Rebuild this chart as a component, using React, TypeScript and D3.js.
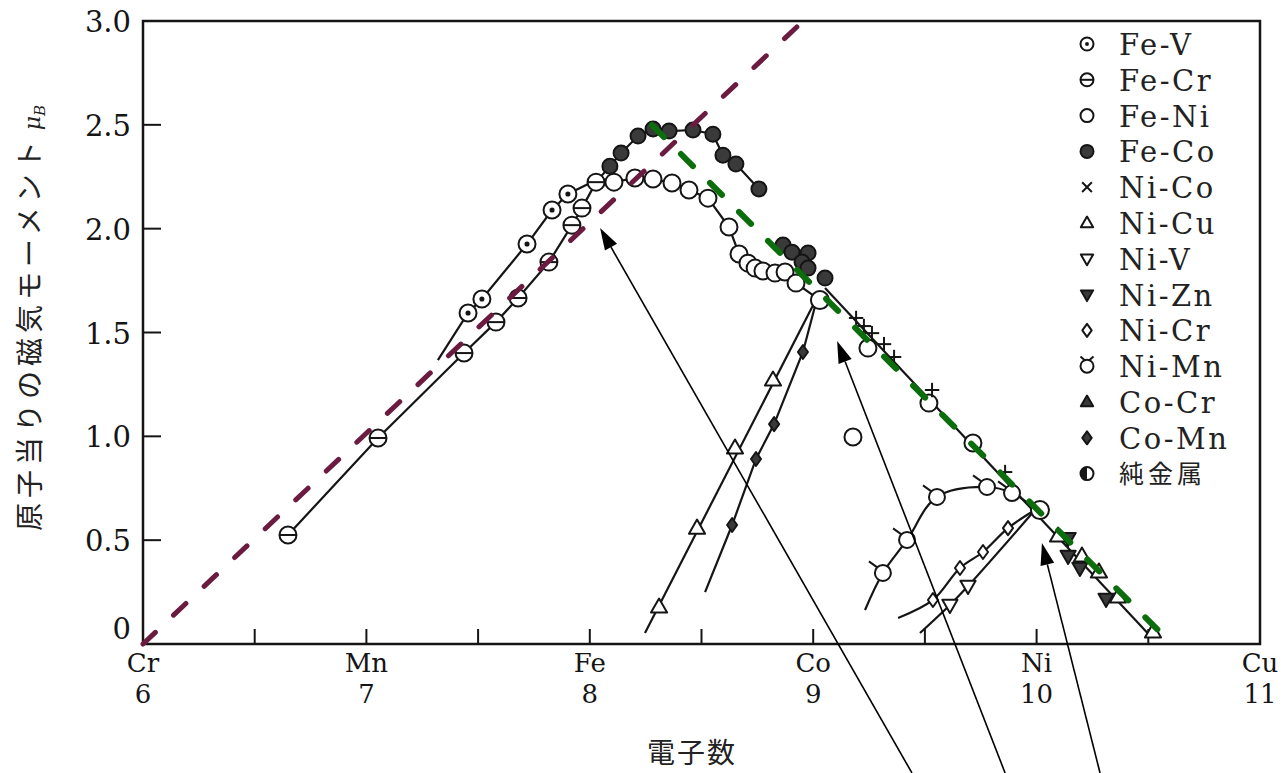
import React from 'react';
import * as d3 from 'd3';

type P = [number, number];

// ---------- axis data ----------
const elementLabels = ['Cr', 'Mn', 'Fe', 'Co', 'Ni', 'Cu'];
const electronNumbers = [6, 7, 8, 9, 10, 11];
const xTickValues = [6.5, 7, 7.5, 8, 8.5, 9, 9.5, 10, 10.5];
const yTickValues = [0.5, 1.0, 1.5, 2.0, 2.5];
const yLabelValues = [0.5, 1.0, 1.5, 2.0, 2.5, 3.0];

// ---------- series (electron number, moment μB) ----------
const feV: P[] = [[7.455, 1.594], [7.517, 1.661], [7.719, 1.926], [7.831, 2.09], [7.902, 2.167]];
const feVCurve: P[] = [[7.32, 1.367], [7.455, 1.594], [7.517, 1.661], [7.719, 1.926], [7.831, 2.09], [7.902, 2.167], [8.02, 2.23]];

const feCr: P[] = [[6.649, 0.525], [7.052, 0.992], [7.437, 1.401], [7.58, 1.55], [7.679, 1.666], [7.817, 1.839], [7.92, 2.017], [7.965, 2.099], [8.028, 2.224]];

const feNi: P[] = [[8.108, 2.224], [8.202, 2.244], [8.283, 2.239], [8.368, 2.22], [8.444, 2.186], [8.529, 2.147], [8.623, 2.008], [8.668, 1.878], [8.708, 1.834], [8.74, 1.81], [8.775, 1.796], [8.829, 1.786], [8.874, 1.791], [8.923, 1.738], [9.178, 0.997], [9.245, 1.425], [9.518, 1.16], [9.715, 0.968]];
const feNiCurve: P[] = [[8.028, 2.224], [8.108, 2.224], [8.202, 2.244], [8.283, 2.239], [8.368, 2.22], [8.444, 2.186], [8.529, 2.147], [8.623, 2.008], [8.668, 1.878], [8.708, 1.834], [8.74, 1.81], [8.775, 1.796], [8.829, 1.786], [8.874, 1.791], [8.923, 1.738], [9.03, 1.656]];

const feCo: P[] = [[8.09, 2.301], [8.14, 2.364], [8.216, 2.446], [8.283, 2.48], [8.355, 2.47], [8.462, 2.475], [8.551, 2.455], [8.596, 2.354], [8.654, 2.311], [8.757, 2.191], [8.865, 1.921], [8.905, 1.887], [8.977, 1.883], [8.95, 1.839], [8.977, 1.81], [9.053, 1.762]];
const feCoCurve: P[] = [[8.028, 2.224], [8.09, 2.301], [8.14, 2.364], [8.216, 2.446], [8.283, 2.48], [8.355, 2.47], [8.462, 2.475], [8.551, 2.455], [8.596, 2.354], [8.654, 2.311], [8.757, 2.191]];

const niCo: P[] = [[9.192, 1.57], [9.227, 1.531], [9.263, 1.497], [9.317, 1.444], [9.362, 1.382], [9.532, 1.223], [9.859, 0.828]];
const mainCurve: P[] = [[9.053, 1.714], [10.508, 0.04]];

const niCu: P[] = [[8.31, 0.178], [8.48, 0.558], [8.65, 0.944], [8.82, 1.271], [10.096, 0.52], [10.203, 0.424], [10.279, 0.347], [10.364, 0.226], [10.521, 0.058]];
const niCuCurve: P[] = [[8.247, 0.053], [9.02, 1.675]];

const niV: P[] = [[9.612, 0.188], [9.693, 0.279]];
const niVCurve: P[] = [[9.478, 0.053], [9.612, 0.188], [9.693, 0.279], [9.993, 0.645]];

const niZn: P[] = [[10.141, 0.51], [10.141, 0.424], [10.194, 0.366], [10.311, 0.217]];

const niCr: P[] = [[9.536, 0.212], [9.657, 0.366], [9.76, 0.443], [9.872, 0.558]];
const niCrCurve: P[] = [[9.38, 0.125], [9.536, 0.212], [9.657, 0.366], [9.76, 0.443], [9.872, 0.558], [9.993, 0.645]];

const niMn: P[] = [[9.312, 0.342], [9.42, 0.501], [9.554, 0.708], [9.778, 0.756], [9.89, 0.727]];
const niMnCurve: P[] = [[9.232, 0.164], [9.312, 0.342], [9.42, 0.501], [9.554, 0.708], [9.778, 0.756], [9.89, 0.727], [10.0, 0.645]];

const coCr: P[] = [];

const coMn: P[] = [[8.637, 0.573], [8.744, 0.891], [8.825, 1.059], [8.954, 1.406]];
const coMnCurve: P[] = [[8.516, 0.25], [8.637, 0.573], [8.744, 0.891], [8.825, 1.059], [8.954, 1.406], [9.02, 1.675]];

const pureMetals: P[] = [[9.03, 1.656], [10.015, 0.645]];

// dashed guide lines
const localizedLine: P[] = [[6, 0], [8.955, 3.0]];
const itinerantLine: P[] = [[8.278, 2.499], [10.597, 0.01]];

// annotation arrows
const arrowTails: P[] = [[9.442, -0.621], [9.859, -0.621], [10.284, -0.621]];
const arrowTips: P[] = [[8.046, 2.003], [9.107, 1.459], [10.024, 0.486]];

// legend
const legendNames = ['Fe-V', 'Fe-Cr', 'Fe-Ni', 'Fe-Co', 'Ni-Co', 'Ni-Cu', 'Ni-V', 'Ni-Zn', 'Ni-Cr', 'Ni-Mn', 'Co-Cr', 'Co-Mn', '純金属'];
const legendSymbols = ['dotCircle', 'barCircle', 'open', 'filled', 'cross', 'triUp', 'triDown', 'triDownFilled', 'diamond', 'hornCircle', 'triUpFilled', 'diamondFilled', 'half'];

// ---------- layout ----------
const W = 1286;
const H = 773;
const INK = '#151515';
const DARK = '#3a3a3a';
const SERIF = '"DejaVu Serif", "Liberation Serif", serif';
const CJK = '"Noto Sans CJK JP", "Noto Sans", sans-serif';

const x = d3.scaleLinear().domain([6, 11]).range([143, 1260]);
const y = d3.scaleLinear().domain([0, 3]).range([644, 21]);

const lin = d3.line<P>().x((d) => x(d[0])).y((d) => y(d[1]));
const smooth = d3.line<P>().x((d) => x(d[0])).y((d) => y(d[1])).curve(d3.curveCatmullRom.alpha(0.5));

function Marker({ type, cx, cy, r }: { type: string; cx: number; cy: number; r: number }) {
  const sw = 2;
  const common = { stroke: INK, strokeWidth: sw };
  switch (type) {
    case 'dotCircle':
      return (
        <g>
          <circle cx={cx} cy={cy} r={r} fill="#fff" {...common} />
          <circle cx={cx} cy={cy} r={r * 0.3} fill={INK} />
        </g>
      );
    case 'barCircle':
      return (
        <g>
          <circle cx={cx} cy={cy} r={r} fill="#fff" {...common} />
          <line x1={cx - r} y1={cy} x2={cx + r} y2={cy} {...common} />
        </g>
      );
    case 'open':
      return <circle cx={cx} cy={cy} r={r} fill="#fff" {...common} />;
    case 'filled':
      return <circle cx={cx} cy={cy} r={r} fill={DARK} {...common} />;
    case 'cross': {
      const a = r * 0.75;
      return (
        <g {...common}>
          <line x1={cx - a} y1={cy - a} x2={cx + a} y2={cy + a} />
          <line x1={cx - a} y1={cy + a} x2={cx + a} y2={cy - a} />
        </g>
      );
    }
    case 'plus': {
      const a = r * 0.9;
      return (
        <g {...common}>
          <line x1={cx - a} y1={cy} x2={cx + a} y2={cy} />
          <line x1={cx} y1={cy - a} x2={cx} y2={cy + a} />
        </g>
      );
    }
    case 'triUp':
    case 'triUpFilled': {
      const d = `M${cx},${cy - r}L${cx + r * 0.95},${cy + r * 0.65}L${cx - r * 0.95},${cy + r * 0.65}Z`;
      return <path d={d} fill={type === 'triUp' ? '#fff' : DARK} {...common} strokeLinejoin="round" />;
    }
    case 'triDown':
    case 'triDownFilled': {
      const d = `M${cx},${cy + r}L${cx + r * 0.95},${cy - r * 0.65}L${cx - r * 0.95},${cy - r * 0.65}Z`;
      return <path d={d} fill={type === 'triDown' ? '#fff' : DARK} {...common} strokeLinejoin="round" />;
    }
    case 'diamond':
    case 'diamondFilled': {
      const d = `M${cx},${cy - r}L${cx + r * 0.72},${cy}L${cx},${cy + r}L${cx - r * 0.72},${cy}Z`;
      return <path d={d} fill={type === 'diamond' ? '#fff' : DARK} {...common} strokeLinejoin="round" />;
    }
    case 'tailCircle':
      return (
        <g>
          <line x1={cx - r * 0.7} y1={cy - r * 0.7} x2={cx - r * 1.75} y2={cy - r * 1.45} {...common} />
          <circle cx={cx} cy={cy} r={r} fill="#fff" {...common} />
        </g>
      );
    case 'hornCircle':
      return (
        <g>
          <line x1={cx - r * 0.35} y1={cy - r * 0.9} x2={cx - r * 1.0} y2={cy - r * 1.5} {...common} />
          <line x1={cx + r * 0.35} y1={cy - r * 0.9} x2={cx + r * 1.0} y2={cy - r * 1.5} {...common} />
          <circle cx={cx} cy={cy} r={r} fill="#fff" {...common} />
        </g>
      );
    case 'half':
      return (
        <g>
          <circle cx={cx} cy={cy} r={r} fill="#fff" {...common} />
          <path d={`M${cx},${cy - r}A${r},${r} 0 0 0 ${cx},${cy + r}Z`} fill={INK} />
        </g>
      );
    default:
      return null;
  }
}

const plotSeries: { pts: P[]; type: string; r: number }[] = [
  { pts: feV, type: 'dotCircle', r: 8.5 },
  { pts: feCr, type: 'barCircle', r: 8.5 },
  { pts: feNi, type: 'open', r: 8.5 },
  { pts: pureMetals, type: 'open', r: 9 },
  { pts: feCo, type: 'filled', r: 7.5 },
  { pts: niCo, type: 'plus', r: 8 },
  { pts: niCu, type: 'triUp', r: 8.5 },
  { pts: niV, type: 'triDown', r: 8 },
  { pts: niZn, type: 'triDownFilled', r: 8 },
  { pts: niCr, type: 'diamond', r: 7 },
  { pts: niMn, type: 'tailCircle', r: 8 },
  { pts: coCr, type: 'triUpFilled', r: 8 },
  { pts: coMn, type: 'diamondFilled', r: 7 },
];

const straightCurves: P[][] = [feCr, feNiCurve, feCoCurve, mainCurve, niCuCurve, coMnCurve, feVCurve];
const smoothCurves: P[][] = [niVCurve, niCrCurve, niMnCurve];

function arrowHead(tail: P, tip: P) {
  const tx = x(tip[0]);
  const ty = y(tip[1]);
  const sx = x(tail[0]);
  const sy = y(tail[1]);
  const ang = Math.atan2(ty - sy, tx - sx);
  const L = 22;
  const hw = 7;
  const bx = tx - L * Math.cos(ang);
  const by = ty - L * Math.sin(ang);
  const px = -Math.sin(ang) * hw;
  const py = Math.cos(ang) * hw;
  return { line: { x1: sx, y1: sy, x2: bx, y2: by }, d: `M${tx},${ty}L${bx + px},${by + py}L${bx - px},${by - py}Z` };
}

export default function App() {
  const x0 = x(6);
  const x1 = x(11);
  const y0 = y(0);
  const y1 = y(3);
  const legendX = 1087;
  const legendY0 = 44;
  const legendStep = 35.8;

  return (
    <svg
      width={W}
      height={H}
      viewBox={`0 0 ${W} ${H}`}
      style={{ position: 'absolute', left: 0, top: 0, background: '#fff' }}
    >
      <rect x={0} y={0} width={W} height={H} fill="#fff" />

      {/* frame */}
      <rect x={x0} y={y1} width={x1 - x0} height={y0 - y1} fill="none" stroke={INK} strokeWidth={2.5} />

      {/* x ticks (inward) */}
      {xTickValues.map((v) => (
        <line key={'xt' + v} x1={x(v)} x2={x(v)} y1={y0} y2={y0 - 15} stroke={INK} strokeWidth={2} />
      ))}
      {/* y ticks (inward) */}
      {yTickValues.map((v) => (
        <line key={'yt' + v} x1={x0} x2={x0 + 18} y1={y(v)} y2={y(v)} stroke={INK} strokeWidth={2} />
      ))}

      {/* y labels */}
      {yLabelValues.map((v) => (
        <text key={'yl' + v} x={131} y={y(v) + 11} textAnchor="end" fontFamily={SERIF} fontSize={29} fill={INK}>
          {v.toFixed(1)}
        </text>
      ))}
      <text x={131} y={y(0) - 5} textAnchor="end" fontFamily={SERIF} fontSize={29} fill={INK}>
        0
      </text>

      {/* x labels */}
      {electronNumbers.map((v, i) => (
        <g key={'xl' + v}>
          <text x={x(v)} y={672} textAnchor="middle" fontFamily={SERIF} fontSize={26} fill={INK}>
            {elementLabels[i]}
          </text>
          <text x={x(v)} y={703} textAnchor="middle" fontFamily={SERIF} fontSize={26} fill={INK}>
            {v}
          </text>
        </g>
      ))}

      {/* axis titles */}
      <text x={692} y={763} textAnchor="middle" fontFamily={CJK} fontSize={28} letterSpacing={2} fill="#222">
        電子数
      </text>
      <text
        transform="translate(40,318) rotate(-90)"
        textAnchor="middle"
        fontFamily={CJK}
        fontSize={28}
        fill="#222"
      >
        <tspan letterSpacing={5}>原子当りの磁気モーメント</tspan>
        <tspan dx={6} fontFamily={SERIF} fontStyle="italic" fontSize={22}>μ</tspan>
        <tspan fontFamily={SERIF} fontStyle="italic" fontSize={15} dy={5}>B</tspan>
      </text>

      {/* solid fitted curves */}
      {straightCurves.map((c, i) => (
        <path key={'sc' + i} d={lin(c) || ''} fill="none" stroke={INK} strokeWidth={2.2} />
      ))}
      {smoothCurves.map((c, i) => (
        <path key={'mc' + i} d={smooth(c) || ''} fill="none" stroke={INK} strokeWidth={2.2} />
      ))}

      {/* markers */}
      {plotSeries.map((s, si) =>
        s.pts.map((p, pi) => <Marker key={`m${si}-${pi}`} type={s.type} cx={x(p[0])} cy={y(p[1])} r={s.r} />)
      )}

      {/* dashed guide lines */}
      <path
        d={lin(localizedLine) || ''}
        fill="none"
        stroke="#6a1b3f"
        strokeWidth={5}
        strokeDasharray="17 25"
        strokeLinecap="round"
      />
      <path
        d={lin(itinerantLine) || ''}
        fill="none"
        stroke="#0b6d0b"
        strokeWidth={6}
        strokeDasharray="17 24"
        strokeLinecap="round"
      />

      {/* arrows */}
      {arrowTips.map((tip, i) => {
        const a = arrowHead(arrowTails[i], tip);
        return (
          <g key={'ar' + i}>
            <line {...a.line} stroke="#000" strokeWidth={1.6} />
            <path d={a.d} fill="#000" />
          </g>
        );
      })}

      {/* legend */}
      {legendNames.map((name, i) => {
        const cy = legendY0 + i * legendStep;
        const isCJK = /[\u3040-\u9fff]/.test(name);
        return (
          <g key={'lg' + name}>
            <Marker type={legendSymbols[i]} cx={legendX} cy={cy} r={6.5} />
            <text
              x={1119}
              y={cy + (isCJK ? 9 : 11)}
              fontFamily={isCJK ? CJK : SERIF}
              fontSize={isCJK ? 25 : 29}
              letterSpacing={isCJK ? 4 : 2.5}
              fill="#222"
            >
              {name}
            </text>
          </g>
        );
      })}
    </svg>
  );
}
